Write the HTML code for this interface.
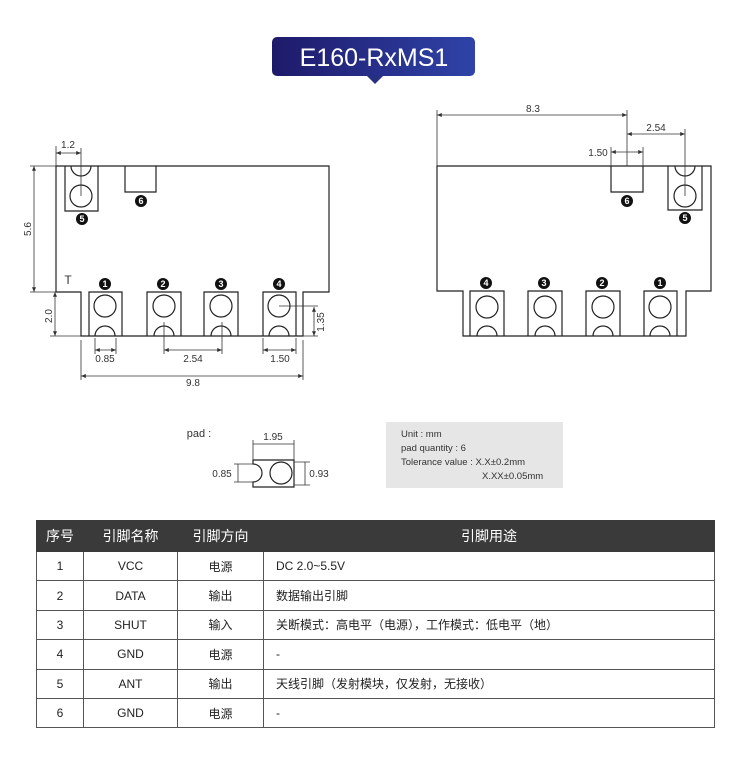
<!DOCTYPE html>
<html><head><meta charset="utf-8"><style>
body{margin:0;background:#fff;width:750px;height:773px;overflow:hidden;font-family:"Liberation Sans","Noto Sans CJK SC",sans-serif}
svg{position:absolute;left:0;top:0}
table{position:absolute;left:36px;top:520px;width:679px;border-collapse:collapse;font-family:"Liberation Sans","Noto Sans CJK SC",sans-serif;font-size:12px;color:#222}
td,th{border:1px solid #555;height:28.4px;padding:0;text-align:center}
th{background:#3a3a3a;color:#fff;font-weight:normal;font-size:14px;height:30px;border-color:#3a3a3a;border-left:1px solid #888}
td.l{text-align:left;padding-left:12px}
</style></head><body>
<svg width="750" height="773" viewBox="0 0 750 773" font-family="Liberation Sans, sans-serif">
<defs>
<linearGradient id="g" x1="0" x2="1"><stop offset="0" stop-color="#1e1a6a"/><stop offset="1" stop-color="#2f43a8"/></linearGradient>
<marker id="a" viewBox="0 0 6 6" refX="6" refY="3" markerWidth="6" markerHeight="6" orient="auto-start-reverse"><path d="M0,0.5 L6,3 L0,5.5Z" fill="#333"/></marker>
</defs>
<rect x="272" y="37" width="203" height="39" rx="5" fill="url(#g)"/>
<path d="M367,76 L375,84 L383,76Z" fill="#26307f"/>
<text x="374" y="66" font-size="25" fill="#fff" text-anchor="middle">E160-RxMS1</text>

<g fill="none" stroke="#222" stroke-width="1.2">
<path d="M56,166 L329,166 L329,292 L303,292 L303,336 L81,336 L81,292 L56,292 Z"/>
<path d="M65,166 L65,211 L98,211 L98,166"/>
<path d="M71,166 A10,10 0 0 0 91,166"/>
<circle cx="81" cy="196" r="11"/>
<path d="M125,166 L125,192 L156,192 L156,166"/>
<g>
<path d="M89,336 L89,292 L122,292 L122,336 M115,336 A10,10 0 0 0 95,336"/><circle cx="105" cy="306" r="11"/>
<path d="M147,336 L147,292 L181,292 L181,336 M174,336 A10,10 0 0 0 154,336"/><circle cx="164" cy="306" r="11"/>
<path d="M204,336 L204,292 L238,292 L238,336 M231,336 A10,10 0 0 0 211,336"/><circle cx="221" cy="306" r="11"/>
<path d="M263,336 L263,292 L296,292 L296,336 M289,336 A10,10 0 0 0 269,336"/><circle cx="279" cy="306" r="11"/>
</g>
<path d="M437,166 L711,166 L711,291 L686,291 L686,336 L463,336 L463,291 L437,291 Z"/>
<path d="M611,166 L611,192 L643,192 L643,166"/>
<path d="M668,166 L668,210 L702,210 L702,166"/>
<path d="M675,166 A10,10 0 0 0 695,166"/>
<circle cx="685" cy="196" r="11"/>
<path d="M470,336 L470,291 L504,291 L504,336 M497,336 A10,10 0 0 0 477,336"/><circle cx="487" cy="307" r="11"/>
<path d="M528,336 L528,291 L562,291 L562,336 M555,336 A10,10 0 0 0 535,336"/><circle cx="545" cy="307" r="11"/>
<path d="M586,336 L586,291 L620,291 L620,336 M613,336 A10,10 0 0 0 593,336"/><circle cx="603" cy="307" r="11"/>
<path d="M644,336 L644,291 L677,291 L677,336 M670,336 A10,10 0 0 0 650,336"/><circle cx="660" cy="307" r="11"/>
<path d="M253,460 L294,460 L294,487 L253,487 L253,482 A9,9 0 0 0 253,464 Z"/>
<circle cx="281" cy="473" r="11"/>
</g>

<g stroke="#333" stroke-width="0.8" fill="none">
<path d="M56,146 V166 M81,148 V196 M30,166 H56 M30,292 H56 M50,336 H81 M95,338 V354 M116,338 V354 M164,322 V354 M222,322 V354 M263,338 V354 M296,338 V354 M81,340 V380 M303,340 V380 M279,306 H318 M303,336 H318"/>
<line x1="56" y1="153" x2="81" y2="153" marker-start="url(#a)" marker-end="url(#a)"/>
<line x1="34" y1="166" x2="34" y2="292" marker-start="url(#a)" marker-end="url(#a)"/>
<line x1="55" y1="292" x2="55" y2="336" marker-start="url(#a)" marker-end="url(#a)"/>
<line x1="314" y1="307" x2="314" y2="336" marker-start="url(#a)" marker-end="url(#a)"/>
<line x1="95" y1="350" x2="116" y2="350" marker-start="url(#a)" marker-end="url(#a)"/>
<line x1="164" y1="350" x2="222" y2="350" marker-start="url(#a)" marker-end="url(#a)"/>
<line x1="263" y1="350" x2="296" y2="350" marker-start="url(#a)" marker-end="url(#a)"/>
<line x1="81" y1="376" x2="303" y2="376" marker-start="url(#a)" marker-end="url(#a)"/>
<path d="M437,110 V166 M627,110 V166 M685,129 V196 M611,147 V166 M643,147 V166"/>
<line x1="437" y1="115" x2="627" y2="115" marker-start="url(#a)" marker-end="url(#a)"/>
<line x1="627" y1="134" x2="685" y2="134" marker-start="url(#a)" marker-end="url(#a)"/>
<line x1="611" y1="152" x2="643" y2="152" marker-start="url(#a)" marker-end="url(#a)"/>
<path d="M253,440 V460 M294,440 V460 M234,464 H253 M234,482 H253 M294,462 H310 M294,485 H310"/>
<line x1="253" y1="444" x2="294" y2="444"/>
<line x1="238" y1="464" x2="238" y2="482"/>
<line x1="305" y1="462" x2="305" y2="485"/>
</g>

<g font-size="10" fill="#333" text-anchor="middle">
<text x="68" y="148">1.2</text>
<text x="105" y="362">0.85</text>
<text x="193" y="362">2.54</text>
<text x="280" y="362">1.50</text>
<text x="193" y="386">9.8</text>
<text transform="translate(31,229) rotate(-90)">5.6</text>
<text transform="translate(52,316) rotate(-90)">2.0</text>
<text transform="translate(324,322) rotate(-90)">1.35</text>
<text x="533" y="112">8.3</text>
<text x="656" y="131">2.54</text>
<text x="598" y="156">1.50</text>
<text x="273" y="440">1.95</text>
<text x="222" y="477">0.85</text>
<text x="319" y="477">0.93</text>
<text x="68" y="284" font-size="12">T</text>
<text x="199" y="437" font-size="11">pad :</text>
</g>

<g fill="#111">
<circle cx="82" cy="219" r="6"/><circle cx="141" cy="201" r="6"/>
<circle cx="105" cy="284" r="6"/><circle cx="163" cy="284" r="6"/><circle cx="221" cy="284" r="6"/><circle cx="279" cy="284" r="6"/>
<circle cx="627" cy="201" r="6"/><circle cx="685" cy="218" r="6"/>
<circle cx="486" cy="283" r="6"/><circle cx="544" cy="283" r="6"/><circle cx="602" cy="283" r="6"/><circle cx="660" cy="283" r="6"/>
</g>
<g fill="#fff" font-size="9" font-weight="bold" text-anchor="middle">
<text x="82" y="222">5</text><text x="141" y="204">6</text>
<text x="105" y="287">1</text><text x="163" y="287">2</text><text x="221" y="287">3</text><text x="279" y="287">4</text>
<text x="627" y="204">6</text><text x="685" y="221">5</text>
<text x="486" y="286">4</text><text x="544" y="286">3</text><text x="602" y="286">2</text><text x="660" y="286">1</text>
</g>

<rect x="386" y="422" width="177" height="66" fill="#e6e6e6"/>
<g font-size="9.5" fill="#333">
<text x="401" y="437">Unit : mm</text>
<text x="401" y="451">pad quantity : 6</text>
<text x="401" y="465">Tolerance value : X.X±0.2mm</text>
<text x="482" y="479">X.XX±0.05mm</text>
</g>
</svg>

<table>
<tr><th style="width:46px;border-left-color:#3a3a3a">序号</th><th style="width:93px">引脚名称</th><th style="width:85px">引脚方向</th><th>引脚用途</th></tr>
<tr><td>1</td><td>VCC</td><td>电源</td><td class="l">DC 2.0~5.5V</td></tr>
<tr><td>2</td><td>DATA</td><td>输出</td><td class="l">数据输出引脚</td></tr>
<tr><td>3</td><td>SHUT</td><td>输入</td><td class="l">关断模式：高电平（电源），工作模式：低电平（地）</td></tr>
<tr><td>4</td><td>GND</td><td>电源</td><td class="l">-</td></tr>
<tr><td>5</td><td>ANT</td><td>输出</td><td class="l">天线引脚（发射模块，仅发射，无接收）</td></tr>
<tr><td>6</td><td>GND</td><td>电源</td><td class="l">-</td></tr>
</table>
</body></html>
